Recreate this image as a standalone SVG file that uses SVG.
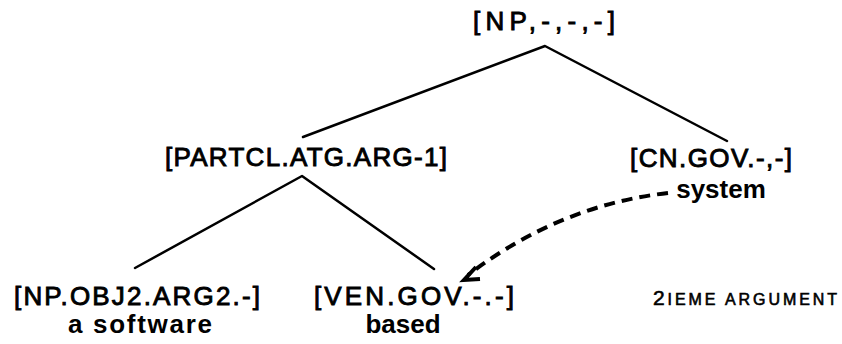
<svg xmlns="http://www.w3.org/2000/svg" width="842" height="344" viewBox="0 0 842 344">
<style>
.lbl{font-family:"Liberation Sans",Arial,sans-serif;font-size:26px;fill:#000;stroke:#000;stroke-width:0.9}
.wd{font-family:"Liberation Sans",Arial,sans-serif;font-size:26px;font-weight:bold;fill:#000;text-anchor:middle}
.note{font-family:"Liberation Sans",Arial,sans-serif;fill:#000;stroke:#000;stroke-width:0.6}
.edge{stroke:#000;stroke-width:2.5;fill:none;stroke-linecap:round;stroke-linejoin:round}
.dash{stroke:#000;stroke-width:4;fill:none;stroke-dasharray:11 7}
</style>
<rect width="842" height="344" fill="#fff"/>
<g id="connectors">
<polyline class="edge" points="303,137 545,46 727,141"/>
<polyline class="edge" points="135,268 302,176 434,269"/>
<path class="dash" d="M668,193 Q560,205 468,275"/>
<path d="M476,267 L464,280 L480,279" stroke="#000" stroke-width="4" fill="none" stroke-linejoin="miter"/>
</g>
<g id="n-root"><text class="lbl" x="473" y="30" textLength="142" lengthAdjust="spacing">[NP,-,-,-]</text></g>
<g id="n-partcl"><text class="lbl" x="165" y="166" textLength="282" lengthAdjust="spacing">[PARTCL.ATG.ARG-1]</text></g>
<g id="n-cn"><text class="lbl" x="630" y="167" textLength="162" lengthAdjust="spacing">[CN.GOV.-,-]</text>
<text class="wd" x="721" y="198">system</text></g>
<g id="n-np"><text class="lbl" x="14" y="305" textLength="246" lengthAdjust="spacing">[NP.OBJ2.ARG2.-]</text>
<text class="wd" x="140" y="333" textLength="144" lengthAdjust="spacing">a  software</text></g>
<g id="n-ven"><text class="lbl" x="314" y="305" textLength="200" lengthAdjust="spacing">[VEN.GOV.-.-]</text>
<text class="wd" x="403" y="333">based</text></g>
<g id="note"><text class="note" x="653" y="305" textLength="184" lengthAdjust="spacing"><tspan font-size="21">2</tspan><tspan font-size="16">IEME ARGUMENT</tspan></text></g>
</svg>
